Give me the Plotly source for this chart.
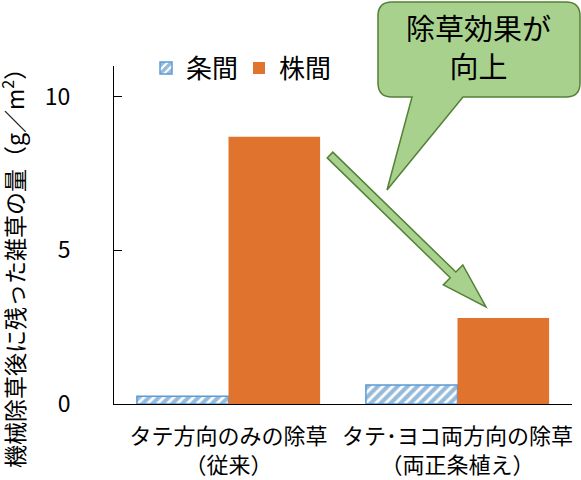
import numpy as np
import plotly.graph_objects as go

# データ
categories = ["タテ方向のみの除草<br>（従来）", "タテ･ヨコ両方向の除草<br>（両正条植え）"]
jokan = [0.25, 0.62]      # 条間
kabuma = [8.7, 2.8]       # 株間
series_names = ["条間", "株間"]
y_ticks = [0, 5, 10]

# プロット領域（ピクセル）
W, H = 581, 480
L, R, T, B = 114, 572, 66, 404


def px(x, y):
    # ピクセル -> paper座標
    return (x - L) / (R - L), (B - y) / (B - T)


def path_from(cmds):
    out = []
    for c in cmds:
        if c == "Z":
            out.append("Z")
            continue
        op, pts = c[0], c[1:]
        s = op
        for (x, y) in pts:
            a, b = px(x, y)
            s += " %.4f,%.4f" % (a, b)
        out.append(s)
    return " ".join(out)


fig = go.Figure()
fig.add_trace(go.Bar(
    x=categories, y=jokan, name=series_names[0],
    marker=dict(color="white", line=dict(color="#5B9BD5", width=1.5),
                pattern=dict(shape="/", fgcolor="#2E75B6", bgcolor="white",
                             size=7, solidity=0.6)),
))
fig.add_trace(go.Bar(
    x=categories, y=kabuma, name=series_names[1],
    marker=dict(color="#E0742F", line=dict(width=0)),
))

# 吹き出し
r = 14
x0, x1, y0, y1 = 378, 580, 2, 97
callout = path_from([
    ("M", (x0 + r, y0)), ("L", (x1 - r, y0)), ("Q", (x1, y0), (x1, y0 + r)),
    ("L", (x1, y1 - r)), ("Q", (x1, y1), (x1 - r, y1)),
    ("L", (463, y1)), ("L", (387, 190)), ("L", (412, y1)),
    ("L", (x0 + r, y1)), ("Q", (x0, y1), (x0, y1 - r)),
    ("L", (x0, y0 + r)), ("Q", (x0, y0), (x0 + r, y0)), "Z",
])

# 矢印
p0 = np.array([330.0, 155.0])
tip = np.array([486.0, 307.0])
u = (tip - p0) / np.linalg.norm(tip - p0)
n = np.array([u[1], -u[0]])
hw, hh, hl = 4.0, 14.0, 46.0
base = tip - u * hl
pts = [p0 + n * hw, base + n * hw, base + n * hh, tip,
       base - n * hh, base - n * hw, p0 - n * hw]
arrow = path_from([("M", tuple(pts[0]))] + [("L", tuple(p)) for p in pts[1:]] + ["Z"])

fig.update_layout(
    width=W, height=H,
    margin=dict(l=L, r=W - R, t=T, b=H - B, autoexpand=False),
    paper_bgcolor="white", plot_bgcolor="white",
    font=dict(family="Noto Sans CJK JP, Noto Sans", color="#000000"),
    barmode="group", bargap=0.2, bargroupgap=0,
    showlegend=True,
    legend=dict(orientation="h", x=(146 - L) / (R - L), xanchor="left",
                y=px(0, 68)[1], yanchor="middle", font=dict(size=26),
                entrywidth=48, bgcolor="rgba(0,0,0,0)", itemclick=False),
    shapes=[
        dict(type="path", xref="paper", yref="paper", path=callout,
             fillcolor="#A9D18E", line=dict(color="#538135", width=1.5), layer="above"),
        dict(type="path", xref="paper", yref="paper", path=arrow,
             fillcolor="#A9D18E", line=dict(color="#538135", width=1.5), layer="above"),
    ],
    annotations=[
        dict(text="除草効果が<br>向上", xref="paper", yref="paper",
             x=px(478, 46)[0], y=px(478, 46)[1], xanchor="center", yanchor="middle",
             showarrow=False, font=dict(size=29, color="black")),
        dict(text="機械除草後に残った雑草の量（g／m<sup>2</sup>）", xref="paper", yref="paper",
             x=px(13, 263)[0], y=px(13, 263)[1], xanchor="center", yanchor="middle",
             showarrow=False, textangle=-90, font=dict(size=23, color="black")),
    ],
)
fig.update_yaxes(range=[0, 11], tickvals=y_ticks, ticks="inside", ticklen=8,
                 tickcolor="black", showline=True, linecolor="black", linewidth=1,
                 showgrid=False, zeroline=False, tickfont=dict(size=23),
                 ticklabelstandoff=38, automargin=False)
fig.update_xaxes(showline=True, linecolor="black", linewidth=1, ticks="",
                 showgrid=False, tickfont=dict(size=22), ticklabelstandoff=13,
                 automargin=False)

fig.write_html("out.html", config={"displayModeBar": False},
               post_script="document.body.style.margin='0';")
